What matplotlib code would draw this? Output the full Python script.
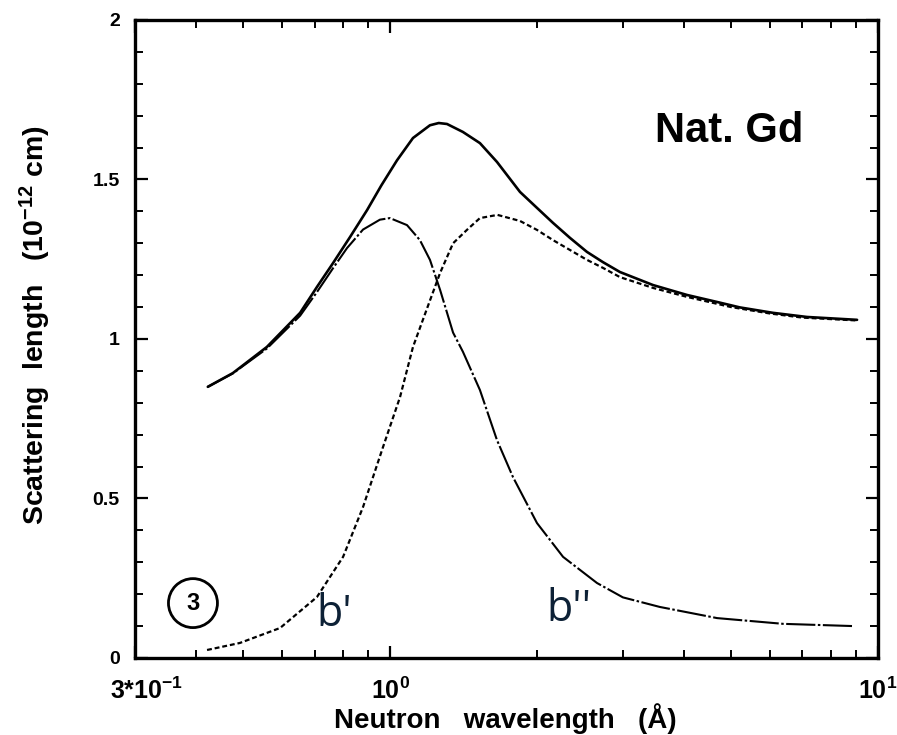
import matplotlib
matplotlib.use('Agg')
import matplotlib.pyplot as plt
import matplotlib.transforms as mtransforms
from matplotlib.ticker import FixedLocator, FixedFormatter

# total scattering length |b| (solid line)
lam_total = [0.423, 0.476, 0.559, 0.654, 0.708, 0.764, 0.828, 0.897, 0.960, 1.033,
             1.114, 1.207, 1.258, 1.308, 1.41, 1.528, 1.656, 1.846, 2.0, 2.157,
             2.337, 2.532, 2.73, 2.958, 3.46, 4.06, 4.68, 5.21, 6.09, 7.15, 9.06]
b_total = [0.85, 0.893, 0.975, 1.082, 1.163, 1.238, 1.320, 1.404, 1.482, 1.56,
           1.630, 1.670, 1.677, 1.674, 1.649, 1.614, 1.555, 1.461, 1.411, 1.364,
           1.317, 1.273, 1.241, 1.21, 1.169, 1.138, 1.116, 1.099, 1.082, 1.069, 1.060]

# short dashed curve (labelled b')
lam_short = [0.4215, 0.492, 0.595, 0.708, 0.801, 0.880, 0.967, 1.048, 1.114, 1.19,
             1.266, 1.346, 1.437, 1.528, 1.66, 1.846, 2.0, 2.157, 2.337, 2.532,
             2.73, 2.958, 3.46, 4.06, 5.0, 6.0, 7.0, 9.06]
b_short = [0.025, 0.047, 0.094, 0.191, 0.317, 0.473, 0.661, 0.818, 0.975, 1.095,
           1.207, 1.30, 1.342, 1.379, 1.389, 1.37, 1.342, 1.31, 1.279, 1.248,
           1.223, 1.194, 1.160, 1.132, 1.10, 1.08, 1.067, 1.058]

# long dashed curve (labelled b'')
lam_long = [0.423, 0.476, 0.559, 0.654, 0.708, 0.764, 0.816, 0.880, 0.953, 0.999,
            1.083, 1.151, 1.207, 1.266, 1.346, 1.41, 1.528, 1.656, 1.786, 2.0,
            2.262, 2.655, 3.0, 3.57, 4.68, 6.39, 8.89]
b_long = [0.85, 0.892, 0.97, 1.073, 1.147, 1.222, 1.285, 1.343, 1.374, 1.379,
          1.357, 1.31, 1.248, 1.154, 1.02, 0.96, 0.84, 0.683, 0.567, 0.423,
          0.317, 0.235, 0.19, 0.16, 0.125, 0.107, 0.10]

x_major = [0.3, 1, 10]
x_major_labels = [r'3*10$^{-1}$', r'10$^{0}$', r'10$^{1}$']
x_minor = [0.4, 0.5, 0.6, 0.7, 0.8, 0.9, 2, 3, 4, 5, 6, 7, 8, 9]
y_major = [0, 0.5, 1, 1.5, 2]
y_major_labels = ['0', '0.5', '1', '1.5', '2']
y_minor = [i / 10 for i in range(21)]

plt.rcParams['font.family'] = ['Liberation Sans', 'DejaVu Sans']
plt.rcParams['mathtext.fontset'] = 'custom'
plt.rcParams['mathtext.rm'] = 'Liberation Sans:bold'
plt.rcParams['mathtext.it'] = 'Liberation Sans:bold'

fig = plt.figure(figsize=(8.97, 7.35), dpi=100)
ax = fig.add_axes([0.1505, 0.1048, 0.8283, 0.868])

ax.plot(lam_total, b_total, color='black', lw=1.9, solid_capstyle='round')
ax.plot(lam_short, b_short, color='black', lw=1.6, dashes=[2.2, 1.3])
ax.plot(lam_long, b_long, color='black', lw=1.5, dashes=[14, 1.2, 1.2, 1.2])

ax.set_xscale('log')
ax.set_xlim(0.3, 10)
ax.set_ylim(0, 2)

ax.xaxis.set_major_locator(FixedLocator(x_major))
ax.xaxis.set_major_formatter(FixedFormatter(x_major_labels))
ax.xaxis.set_minor_locator(FixedLocator(x_minor))
ax.xaxis.set_minor_formatter(FixedFormatter([''] * len(x_minor)))
ax.yaxis.set_major_locator(FixedLocator(y_major))
ax.yaxis.set_major_formatter(FixedFormatter(y_major_labels))
ax.yaxis.set_minor_locator(FixedLocator(y_minor))

for side in ax.spines.values():
    side.set_linewidth(2.4)

ax.tick_params(which='both', direction='in', top=True, right=True, color='black')
ax.tick_params(which='major', length=9, width=1.6)
ax.tick_params(which='minor', length=5.5, width=1.4)
ax.tick_params(axis='y', which='major', labelsize=14, pad=11)
ax.tick_params(axis='x', which='major', labelsize=18, pad=14)
for lbl in ax.get_xticklabels() + ax.get_yticklabels():
    lbl.set_fontweight('bold')

# the 3*10^-1 label sits a bit right of its tick in the original
first = ax.get_xticklabels()[0]
first.set_transform(first.get_transform() +
                    mtransforms.ScaledTranslation(12 / 100, 0, fig.dpi_scale_trans))

fig.text(0.5635, 0.0095, r'Neutron   wavelength   (Å)', fontsize=20,
         fontweight='bold', ha='center', va='baseline')
fig.text(0.040, 0.558, r'Scattering  length   (10$^{-12}$ cm)', rotation=90,
         fontsize=20.5, fontweight='bold', ha='center', va='center')

ax.text(0.80, 0.826, 'Nat. Gd', transform=ax.transAxes, fontsize=30,
        fontweight='bold', ha='center', va='center')

ax.text(0.078, 0.086, '3', transform=ax.transAxes, fontsize=17, fontweight='bold',
        ha='center', va='center',
        bbox=dict(boxstyle='circle,pad=0.55', fc='white', ec='black', lw=2))

ax.text(0.2675, 0.068, "b'", transform=ax.transAxes, fontsize=31, color='#0d2136',
        family='Open Sans', ha='center', va='center')
ax.text(0.584, 0.075, "b''", transform=ax.transAxes, fontsize=31, color='#0d2136',
        family='Open Sans', ha='center', va='center')

plt.savefig('out.png', dpi=100)
